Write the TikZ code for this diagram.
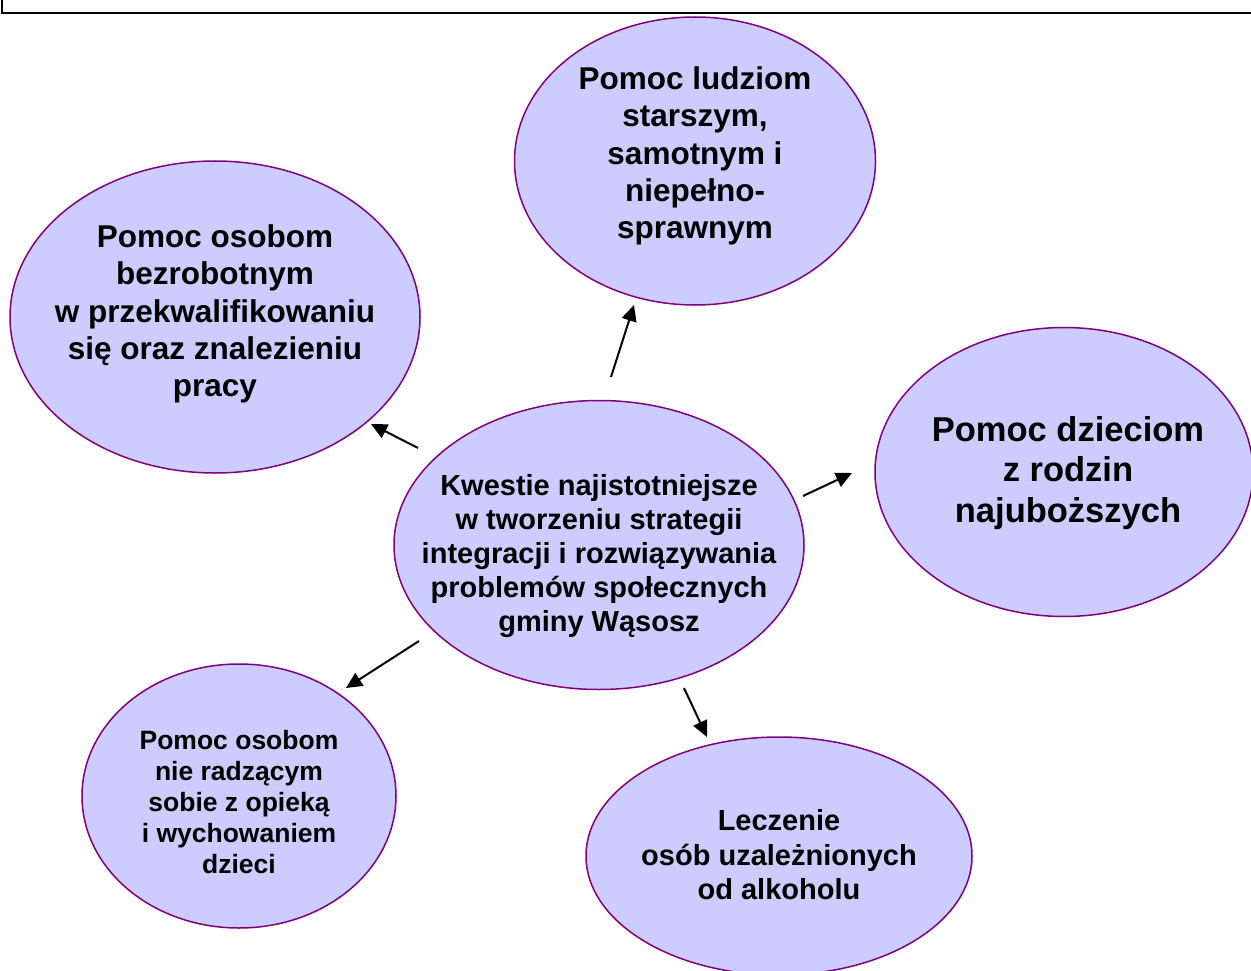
\documentclass[tikz,border=0pt]{standalone}
\usepackage{fontspec}
\setmainfont{Liberation Sans}
\usetikzlibrary{shapes.geometric,arrows.meta}
\definecolor{bubblefill}{HTML}{CCCCFF}
\definecolor{bubbleline}{HTML}{800080}
\tikzset{
  bubble/.style={ellipse, draw=bubbleline, fill=bubblefill, line width=1.5pt, inner sep=0pt},
  lbl/.style={align=center, font=\bfseries, inner sep=0pt},
  conn/.style={line width=2pt, -{Triangle[length=16pt,width=15pt]}},
}
\begin{document}
\begin{tikzpicture}[x=1pt,y=-1pt]
\useasboundingbox (0,0) rectangle (1251,971);
\clip (0,0) rectangle (1251,971);
\draw[line width=2.5pt] (2,-2) -- (2,13) -- (1255,13);
% ellipses
\node[bubble, minimum width=361pt, minimum height=288pt] (top) at (695,161) {};
\node[bubble, minimum width=410pt, minimum height=312pt] (left) at (215,317) {};
\node[bubble, minimum width=378pt, minimum height=289pt] (right) at (1064,472) {};
\node[bubble, minimum width=410pt, minimum height=289pt] (center) at (599,545) {};
\node[bubble, minimum width=314pt, minimum height=264pt] (bleft) at (239,796) {};
\node[bubble, minimum width=386pt, minimum height=238pt] (bright) at (779,856) {};
% texts
\node[lbl, font=\bfseries\fontsize{31.5}{37.3}\selectfont] (ttop) at (695,156) {Pomoc ludziom\\starszym,\\samotnym i\\niepełno-\\sprawnym};
\node[lbl, font=\bfseries\fontsize{31.5}{37.3}\selectfont] (tleft) at (215,314) {Pomoc osobom\\bezrobotnym\\w przekwalifikowaniu\\się oraz znalezieniu\\pracy};
\node[lbl, font=\bfseries\fontsize{34.5}{40.5}\selectfont] (tright) at (1068,473) {Pomoc dzieciom\\z rodzin\\najuboższych};
\node[lbl, font=\bfseries\fontsize{29}{34.2}\selectfont] (tcenter) at (599,556) {Kwestie najistotniejsze\\w tworzeniu strategii\\integracji i rozwiązywania\\problemów społecznych\\gminy Wąsosz};
\node[lbl, font=\bfseries\fontsize{26.5}{31}\selectfont] (tbleft) at (239,802) {Pomoc osobom\\nie radzącym\\sobie z opieką\\i wychowaniem\\dzieci};
\node[lbl, font=\bfseries\fontsize{29}{34.5}\selectfont] (tbright) at (779,855) {Leczenie\\osób uzależnionych\\od alkoholu};
% arrow end points
\coordinate (a1s) at (418,448); \coordinate (a1e) at (371,424);
\coordinate (a2s) at (611,377); \coordinate (a2e) at (634,305);
\coordinate (a3s) at (803,496); \coordinate (a3e) at (852,473);
\coordinate (a4s) at (419,641); \coordinate (a4e) at (346,688);
\coordinate (a5s) at (684,688); \coordinate (a5e) at (707,737);
\draw[conn] (a1s) -- (a1e);
\draw[conn] (a2s) -- (a2e);
\draw[conn] (a3s) -- (a3e);
\draw[conn] (a4s) -- (a4e);
\draw[conn] (a5s) -- (a5e);
\end{tikzpicture}
\end{document}
